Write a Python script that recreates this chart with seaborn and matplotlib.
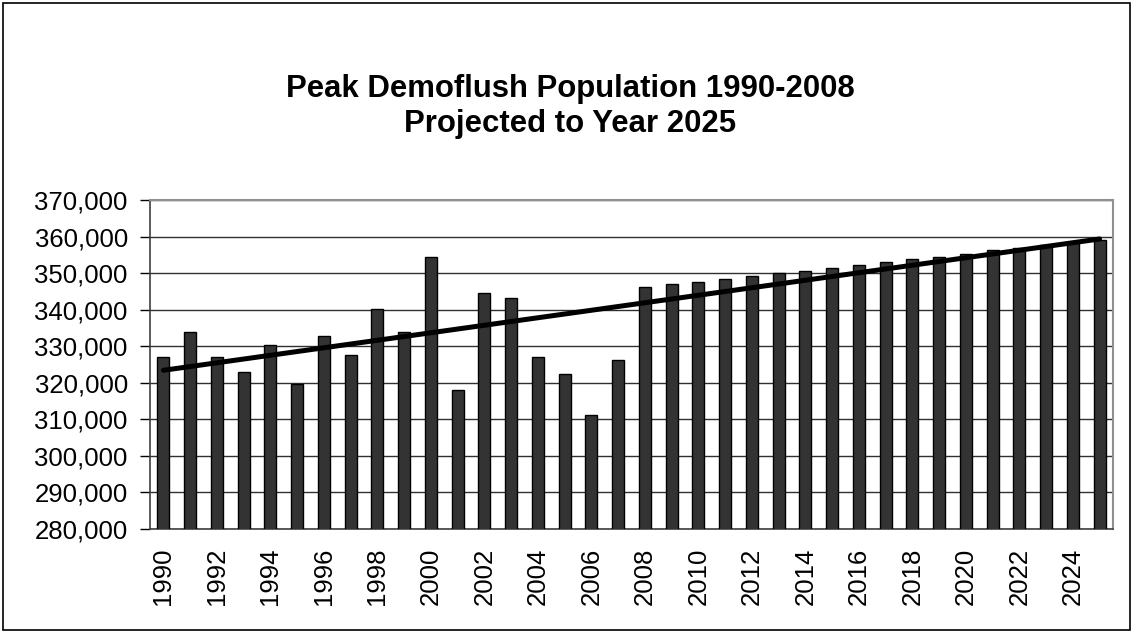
import numpy as np
import matplotlib
matplotlib.use("Agg")
import matplotlib.pyplot as plt
import matplotlib.ticker as mticker
from matplotlib.patches import Rectangle
import seaborn as sns
import pandas as pd

years = [str(y) for y in range(1990, 2026)]
population = [327000, 333900, 327000, 322900, 330200, 319800, 332700, 327500,
              340200, 333800, 354400, 317900, 344500, 343100, 327000, 322500,
              311300, 326300, 346100, 346900, 347600, 348400, 349100, 350000,
              350700, 351500, 352200, 353100, 353900, 354500, 355300, 356200,
              356900, 357700, 358400, 359200]
title = "Peak Demoflush Population 1990-2008\nProjected to Year 2025"

sns.set_theme(style="white")
plt.rcParams['font.family'] = ['Liberation Sans', 'DejaVu Sans']
plt.rcParams['text.color'] = 'black'
plt.rcParams['xtick.color'] = 'black'
plt.rcParams['ytick.color'] = 'black'

df = pd.DataFrame({'Year': years, 'Population': population})

fig = plt.figure(figsize=(11.33, 6.32), dpi=100)
ax = fig.add_axes([0.1324, 0.163, 0.8499, 0.5205])

sns.barplot(data=df, x='Year', y='Population', order=years, color='#333333',
            edgecolor='black', linewidth=1, width=0.45, saturation=1, ax=ax, zorder=3)

# linear trend over all bars
xs = np.arange(len(years))
slope, icpt = np.polyfit(xs, population, 1)
ax.plot(xs, slope * xs + icpt, color='black', lw=3.6, zorder=4, solid_capstyle='round')

ax.set_ylim(280000, 370000)
ax.set_xlim(-0.5, len(years) - 0.5)
ax.yaxis.set_major_locator(mticker.MultipleLocator(10000))
ax.yaxis.set_major_formatter(mticker.StrMethodFormatter('{x:,.0f}'))
ax.yaxis.grid(True, color='#303030', lw=1, zorder=0)
ax.set_axisbelow(True)

ax.set_xticks(xs[::2])
ax.set_xticklabels(years[::2], rotation=90, fontsize=18.5)
ax.tick_params(axis='x', length=0, pad=13.5)
ax.tick_params(axis='y', labelsize=18.5, length=7, width=1, direction='out', left=True, pad=9)
ax.set_xlabel('')
ax.set_ylabel('')

for s in ['left', 'bottom']:
    ax.spines[s].set_color('#404040')
    ax.spines[s].set_linewidth(1.2)
for s in ['top', 'right']:
    ax.spines[s].set_color('#909090')
    ax.spines[s].set_linewidth(1.5)

fig.text(0.503, 0.832, title, ha='center', va='center', fontsize=22.4,
         fontweight='bold', linespacing=1.22)

fig.patches.append(Rectangle((0.003, 0.003), 0.994, 0.992, transform=fig.transFigure,
                             fill=False, edgecolor='black', lw=1.2))

fig.savefig('out.png', dpi=100, facecolor='white')
